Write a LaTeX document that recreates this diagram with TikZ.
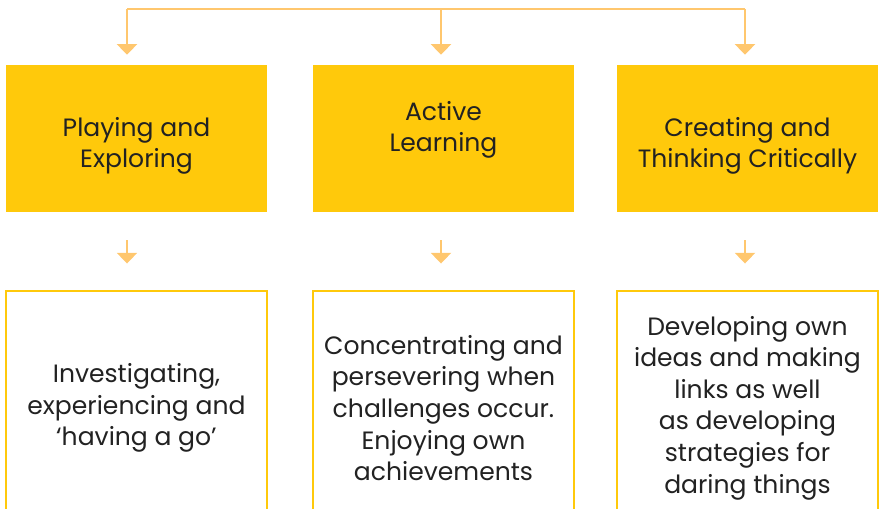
\documentclass[tikz,border=0pt]{standalone}
\usepackage{fontspec}
\setmainfont{Poppins}
\usepackage{xcolor}
\usepackage{tikz}
\usetikzlibrary{positioning,arrows.meta,calc}

\definecolor{boxyellow}{HTML}{FFC90B}
\definecolor{arrowyellow}{HTML}{FFC76E}
\definecolor{textgrey}{HTML}{222222}

\tikzset{
    areabox/.style={fill=boxyellow, draw=none, minimum width=261*0.75pt, minimum height=147*0.75pt, inner sep=0pt},
    detailbox/.style={draw=boxyellow, line width=2.2pt, fill=white, minimum width=261*0.75pt, minimum height=234*0.75pt, inner sep=0pt, align=center, text=textgrey, font=\fontsize{18.8}{23.7}\selectfont},
    areatext/.style={align=center, text=textgrey, font=\fontsize{18.8}{23.5}\selectfont},
    flow/.style={draw=arrowyellow, line width=2.2pt, -{Triangle[width=15pt, length=8pt]}},
    smallflow/.style={draw=arrowyellow, line width=1.6pt, -{Triangle[width=15pt, length=8pt]}}
}

\begin{document}
\begin{tikzpicture}[x=0.75pt, y=-0.75pt]
    \useasboundingbox (0, 0) rectangle (879, 509);
    \clip (0, 0) rectangle (879, 509);

    % top row
    \node[areabox] (play) at (136.5, 138.5) {};
    \node[areabox] (active) at (443.5, 138.5) {};
    \node[areabox] (create) at (747.5, 138.5) {};
    \node[areatext] (playtext) at (136.5, 146) {Playing and\\Exploring};
    \node[areatext] (activetext) at (443.5, 130) {Active\\Learning};
    \node[areatext] (createtext) at (747.5, 146) {Creating and\\Thinking Critically};

    % bottom row
    \node[detailbox] (play2) at (136.5, 408) {Investigating,\\experiencing and\\`having a go'};
    \node[detailbox] (active2) at (443.5, 408) {Concentrating and\\persevering when\\challenges occur.\\Enjoying own\\achievements};
    \node[detailbox] (create2) at (747.5, 408) {Developing own\\ideas and making\\links as well\\as developing\\strategies for\\daring things};

    % top connector
    \coordinate (left) at (127, 9);
    \coordinate (mid) at (441, 9);
    \coordinate (right) at (745, 9);
    \draw[draw=arrowyellow, line width=2.2pt] (left) -- (right);
    \draw[flow] (left) -- ($(play.north -| left)+(0,-10)$);
    \draw[flow] (mid) -- ($(active.north -| mid)+(0,-10)$);
    \draw[flow] (right) -- ($(create.north -| right)+(0,-10)$);

    % small arrows between rows
    \foreach \a/\b/\c in {play/play2/left, active/active2/mid, create/create2/right} {
        \draw[smallflow] ($(\a.south -| \c)+(0,28)$) -- ($(\b.north -| \c)+(0,-26)$);
    }
\end{tikzpicture}
\end{document}
